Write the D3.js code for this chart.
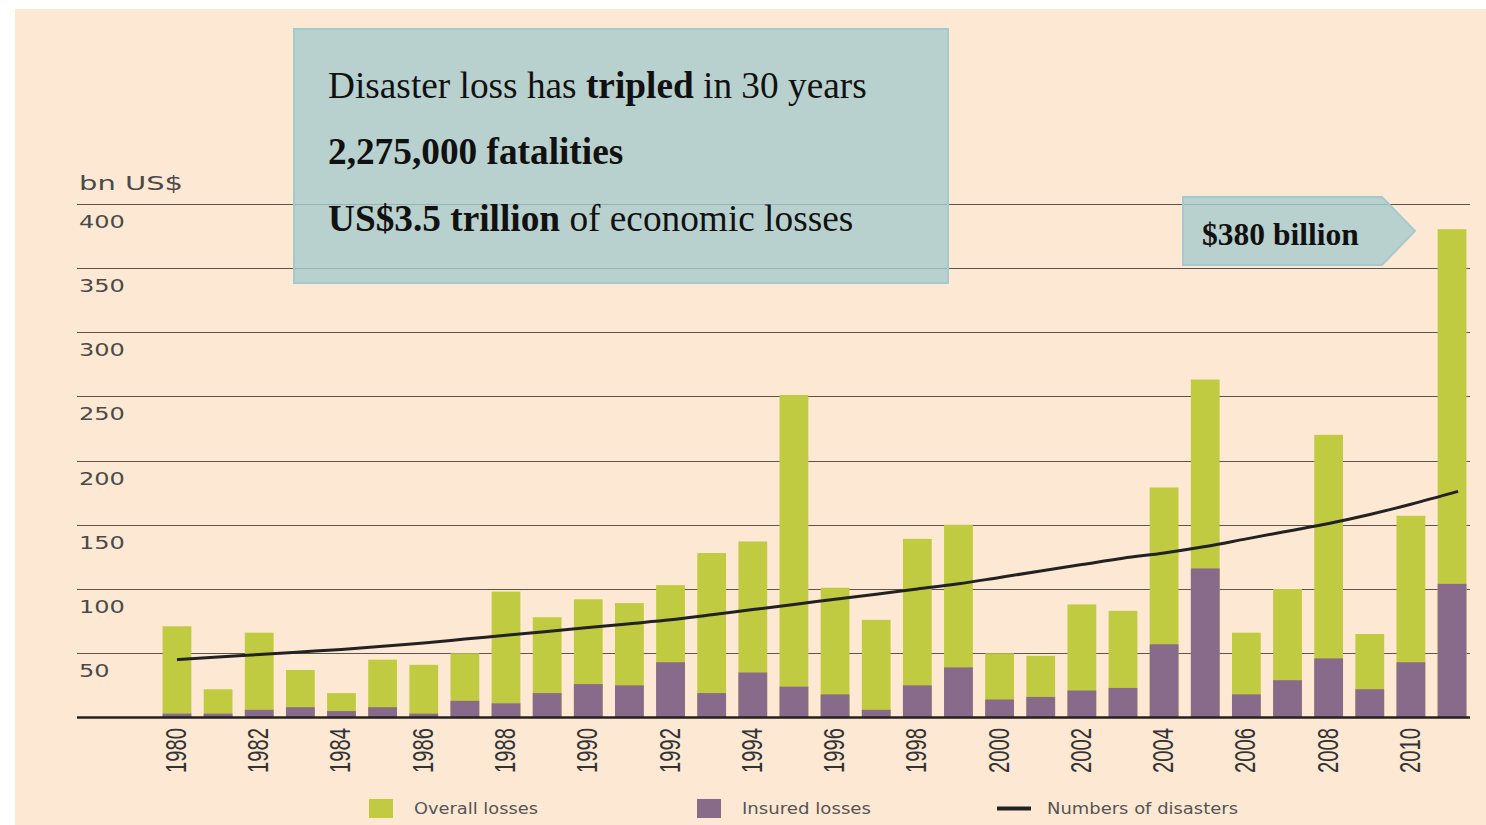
<!DOCTYPE html>
<html>
<head>
<meta charset="utf-8">
<script src="https://cdn.jsdelivr.net/npm/d3@7/dist/d3.min.js"></script>
<style>
  html, body { margin: 0; padding: 0; background: #ffffff; }
  svg { display: block; }
</style>
</head>
<body>
<svg id="chart" width="1486" height="825"></svg>
<script>
// Natural catastrophe losses, 1980–2011 (bn US$)
const years = d3.range(1980, 2012);
const overallLosses = [71, 22, 66, 37, 19, 45, 41, 50, 98, 78, 92, 89, 103, 128, 137, 251, 101, 76, 139, 150,
                       50, 48, 88, 83, 179, 263, 66, 100, 220, 65, 157, 380];
const insuredLosses = [3, 3, 6, 8, 5, 8, 3, 13, 11, 19, 26, 25, 43, 19, 35, 24, 18, 6, 25, 39,
                       14, 16, 21, 23, 57, 116, 18, 29, 46, 22, 43, 104];
// Smoothed number-of-disasters trend, drawn against the same vertical scale
const disasterTrend = [45, 47, 49, 51, 53, 55.5, 58, 61, 64, 67, 70, 73, 76, 80, 84, 88, 92, 96, 100, 104,
                       109, 114, 119, 124, 128, 133, 139, 145, 151, 158, 166, 176];
const yTicks = [50, 100, 150, 200, 250, 300, 350, 400];
const yearLabels = d3.range(1980, 2012, 2);
const legendItems = ["Overall losses", "Insured losses", "Numbers of disasters"];
const headlineLines = [
  [["Disaster loss has ", false], ["tripled", true], [" in 30 years", false]],
  [["2,275,000 fatalities", true]],
  [["US$3.5 trillion", true], [" of economic losses", false]]
];
const peakLabel = "$380 billion";

const C = {
  bg: "#fde9d3",
  overall: "#c0cb41",
  insured: "#886a8a",
  grid: "#5a5350",
  text: "#4a4a4a",
  box: "rgba(168,203,205,0.8)",
  boxStroke: "#a4cad0"
};
const SANS = "DejaVu Sans, Verdana, sans-serif";
const SERIF = "Liberation Serif, Times New Roman, serif";

const svg = d3.select("#chart");
svg.append("rect").attr("x", 15).attr("y", 9).attr("width", 1471).attr("height", 816).attr("fill", C.bg);

const x = d3.scaleBand().domain(years).range([156.4, 1472.6]).paddingInner(0.3).paddingOuter(0.15);
const y = d3.scaleLinear().domain([0, 400]).range([717.5, 203.5]);

// gridlines
svg.append("g").selectAll("line").data(yTicks).join("line")
  .attr("x1", 77).attr("x2", 1470)
  .attr("y1", d => Math.round(y(d)) + 0.5).attr("y2", d => Math.round(y(d)) + 0.5)
  .attr("stroke", C.grid).attr("stroke-width", 1.2);

// y tick labels sit just below each gridline, set wide
svg.append("g").selectAll("text").data(yTicks).join("text")
  .attr("x", 79).attr("y", d => y(d) + 24)
  .attr("font-family", SANS).attr("font-size", 18)
  .attr("textLength", d => String(d).length * 15.3).attr("lengthAdjust", "spacingAndGlyphs")
  .attr("fill", C.text)
  .text(d => d);

svg.append("text").attr("x", 79).attr("y", 190)
  .attr("font-family", SANS).attr("font-size", 20)
  .attr("textLength", 104).attr("lengthAdjust", "spacingAndGlyphs")
  .attr("fill", C.text).text("bn US$");

// stacked bars: overall losses (full height) with the insured share at the base
const bars = svg.append("g");
bars.selectAll(".overall").data(years).join("rect").attr("class", "overall")
  .attr("x", d => x(d)).attr("width", x.bandwidth())
  .attr("y", (d, i) => y(overallLosses[i])).attr("height", (d, i) => y(0) - y(overallLosses[i]))
  .attr("fill", C.overall);
bars.selectAll(".insured").data(years).join("rect").attr("class", "insured")
  .attr("x", d => x(d)).attr("width", x.bandwidth())
  .attr("y", (d, i) => y(insuredLosses[i])).attr("height", (d, i) => y(0) - y(insuredLosses[i]))
  .attr("fill", C.insured);

// baseline
svg.append("line").attr("x1", 77).attr("x2", 1470).attr("y1", y(0)).attr("y2", y(0))
  .attr("stroke", "#222").attr("stroke-width", 2.5);

// trend line
const line = d3.line()
  .x((d, i) => x(years[i]) + x.bandwidth() / 2 + (i === years.length - 1 ? 6 : 0))
  .y(d => y(d))
  .curve(d3.curveMonotoneX);
svg.append("path").datum(disasterTrend).attr("d", line)
  .attr("fill", "none").attr("stroke", "#222").attr("stroke-width", 3);

// x axis year labels (condensed, rotated)
svg.append("g").selectAll("text").data(yearLabels).join("text")
  .attr("transform", d => `translate(${x(d) + x.bandwidth() / 2 + 9},728) rotate(-90)`)
  .attr("text-anchor", "end")
  .attr("font-family", "Liberation Sans, Arial, sans-serif").attr("font-size", 30)
  .attr("textLength", 45).attr("lengthAdjust", "spacingAndGlyphs")
  .attr("fill", "#333")
  .text(d => d);

// legend
const legend = svg.append("g").attr("font-family", SANS)
  .attr("font-size", 15.5).attr("fill", "#555");
const legendText = (tx, w, s) => legend.append("text").attr("x", tx).attr("y", 814)
  .attr("textLength", w).attr("lengthAdjust", "spacingAndGlyphs").text(s);
legend.append("rect").attr("x", 369).attr("y", 799).attr("width", 24).attr("height", 19).attr("fill", C.overall);
legendText(414, 124, legendItems[0]);
legend.append("rect").attr("x", 697).attr("y", 799).attr("width", 24).attr("height", 19).attr("fill", C.insured);
legendText(742, 129, legendItems[1]);
legend.append("line").attr("x1", 997).attr("x2", 1031).attr("y1", 808.5).attr("y2", 808.5)
  .attr("stroke", "#222").attr("stroke-width", 4);
legendText(1047, 191, legendItems[2]);

// headline box
svg.append("rect").attr("x", 294).attr("y", 29).attr("width", 654).attr("height", 254)
  .attr("fill", C.box).attr("stroke", C.boxStroke).attr("stroke-width", 2);
const baselines = [98, 164, 231];
headlineLines.forEach((parts, li) => {
  const t = svg.append("text").attr("x", 328).attr("y", baselines[li])
    .attr("font-family", SERIF).attr("font-size", 37.3)
    .attr("fill", "#111");
  parts.forEach(([s, b]) => t.append("tspan").attr("font-weight", b ? "bold" : "normal").text(s));
});

// peak value callout arrow
const ax0 = 1183, ay0 = 197, ay1 = 265, axr = 1382, axp = 1415;
svg.append("path")
  .attr("d", `M${ax0},${ay0}H${axr}L${axp},${(ay0 + ay1) / 2}L${axr},${ay1}H${ax0}Z`)
  .attr("fill", C.box).attr("stroke", C.boxStroke).attr("stroke-width", 2);
svg.append("text").attr("x", 1202).attr("y", 245)
  .attr("font-family", SERIF).attr("font-size", 31.5)
  .attr("font-weight", "bold").attr("fill", "#111").text(peakLabel);
</script>
</body>
</html>
